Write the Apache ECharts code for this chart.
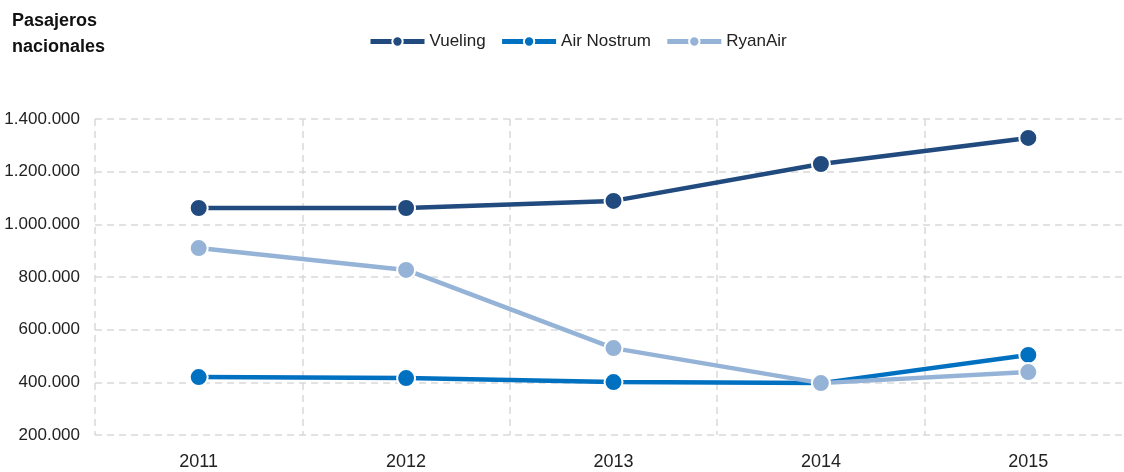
<!DOCTYPE html>
<html><head><meta charset="utf-8">
<script src="https://cdn.jsdelivr.net/npm/echarts@6/dist/echarts.min.js"></script>
<style>html,body{margin:0;padding:0;background:#fff}#c{width:1124px;height:472px}</style>
</head><body><div id="c"></div>
<script>
const years = ['2011','2012','2013','2014','2015'];
const vueling = [1062000, 1062000, 1089000, 1229000, 1328000];
const airNostrum = [420000, 416000, 401000, 397000, 504000];
const ryanAir = [910000, 827000, 530000, 397000, 439000];
const seriesNames = ['Vueling','Air Nostrum','RyanAir'];
const colors = ['#214a7e','#0070c0','#95b3d7'];

const font = 'Liberation Sans, Arial, sans-serif';
const chart = echarts.init(document.getElementById('c'));
function mk(name, data, color){
  return {name, type:'line', data, color,
    symbol:'circle', symbolSize:18,
    lineStyle:{width:4.5, color},
    itemStyle:{color, borderColor:'#fff', borderWidth:2},
    emphasis:{disabled:true}};
}
chart.setOption({
  animation:false,
  textStyle:{fontFamily:font},
  title:{text:'Pasajeros\nnacionales', left:7, top:3,
    textStyle:{fontFamily:font, fontSize:18, fontWeight:'bold', color:'#111', lineHeight:26}},
  legend:{top:28, left:363, itemWidth:54, itemHeight:13, itemGap:14,
    lineStyle:{width:5},
    textStyle:{fontFamily:font, fontSize:17, color:'#222'},
    data:seriesNames},
  grid:{left:95, width:1037, top:119, bottom:37, outerBoundsMode:'none', containLabel:false},
  xAxis:{type:'category', data:years, boundaryGap:true,
    axisLine:{show:false}, axisTick:{show:false},
    axisLabel:{fontFamily:font, fontSize:18, color:'#222', margin:18},
    splitLine:{show:true, lineStyle:{type:[7,5], color:'#d9d9d9', width:1.5}}},
  yAxis:{type:'value', min:200000, max:1400000, interval:200000,
    axisLine:{show:false}, axisTick:{show:false},
    axisLabel:{fontFamily:font, fontSize:17, color:'#222', margin:15,
      formatter:v=>String(v).replace(/\B(?=(\d{3})+(?!\d))/g,'.')},
    splitLine:{lineStyle:{type:[7,5], color:'#d9d9d9', width:1.5}}},
  series:[mk(seriesNames[0], vueling, colors[0]), mk(seriesNames[1], airNostrum, colors[1]), mk(seriesNames[2], ryanAir, colors[2])]
});
</script></body></html>
